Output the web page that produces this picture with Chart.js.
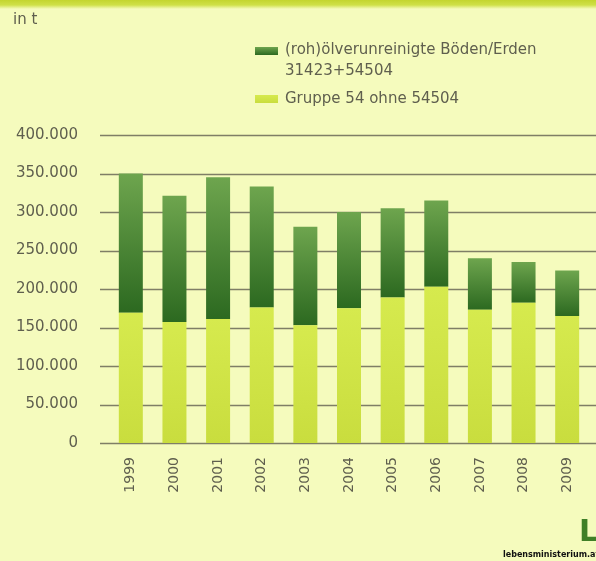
<!DOCTYPE html>
<html>
<head>
<meta charset="utf-8">
<script src="https://cdn.jsdelivr.net/npm/chart.js@4.4.1/dist/chart.umd.min.js"></script>
<style>
  html, body { margin: 0; padding: 0; background: #f5fbbf; }
  #box { width: 596px; height: 561px; }
</style>
</head>
<body>
<div id="box"><canvas id="myChart" width="596" height="561"></canvas></div>
<script>
  // Abfallmengen in Tonnen
  const years = ["1999", "2000", "2001", "2002", "2003", "2004", "2005", "2006", "2007", "2008", "2009"];
  const gruppe54 = [169000, 157000, 161000, 176000, 153000, 175000, 189000, 203000, 173000, 182000, 165000];
  const boeden = [181000, 164000, 184000, 157000, 128000, 125000, 116000, 112000, 67000, 53000, 59000];
  const yTicks = [0, 50000, 100000, 150000, 200000, 250000, 300000, 350000, 400000];

  const labelBoeden = ["(roh)ölverunreinigte Böden/Erden", "31423+54504"];
  const labelGruppe = ["Gruppe 54 ohne 54504"];

  const FONT = "'DejaVu Sans', sans-serif";
  const TEXT = "#5f5f4e";

  function fmt(v) {
    return String(v).replace(/\B(?=(\d{3})+(?!\d))/g, ".");
  }

  function darkFill(c, top, bottom) {
    const g = c.createLinearGradient(0, top, 0, bottom);
    g.addColorStop(0, "#6ea54e");
    g.addColorStop(1, "#2c6920");
    return g;
  }
  function lightFill(c, top, bottom) {
    const g = c.createLinearGradient(0, top, 0, bottom);
    g.addColorStop(0, "#d6ea4e");
    g.addColorStop(1, "#c9dd3e");
    return g;
  }

  // Hintergrund, Rasterlinien, Legende, Beschriftung
  const deko = {
    id: "deko",
    beforeDraw(chart) {
      const c = chart.ctx;
      c.save();
      c.fillStyle = "#f5fbbd";
      c.fillRect(0, 0, chart.width, chart.height);
      const band = c.createLinearGradient(0, 0, 0, 9);
      band.addColorStop(0, "#c3d52e");
      band.addColorStop(0.55, "#cfe047");
      band.addColorStop(1, "#f5fbbd");
      c.fillStyle = band;
      c.fillRect(0, 0, chart.width, 9);
      c.restore();
    },
    beforeDatasetsDraw(chart) {
      const c = chart.ctx;
      const y = chart.scales.y;
      c.save();
      c.strokeStyle = "#7f7e66";
      c.lineWidth = 1.3;
      yTicks.forEach(v => {
        const py = Math.round(y.getPixelForValue(v)) + 0.5;
        c.beginPath();
        c.moveTo(100, py);
        c.lineTo(chart.width, py);
        c.stroke();
      });
      c.restore();
    },
    afterDraw(chart) {
      const c = chart.ctx;
      c.save();
      c.fillStyle = TEXT;
      c.textBaseline = "middle";
      c.font = "15px " + FONT;
      c.fillText("in t", 13, 20);

      // Legende
      c.fillStyle = darkFill(c, 47, 55);
      c.fillRect(255, 47, 23, 8);
      c.fillStyle = lightFill(c, 95, 103);
      c.fillRect(255, 95, 23, 8);
      c.fillStyle = TEXT;
      c.fillText(labelBoeden[0], 285, 50);
      c.fillText(labelBoeden[1], 285, 71);
      c.fillText(labelGruppe[0], 285, 99);

      // Logo
      c.fillStyle = "#3f7f27";
      c.font = "bold 30px " + FONT;
      c.fillText("L", 579, 533);
      c.fillStyle = "#111";
      c.font = "bold 8px " + FONT;
      c.fillText("lebensministerium.at", 503, 555);
      c.restore();
    }
  };

  new Chart("myChart", {
    type: "bar",
    data: {
      labels: years,
      datasets: [
        {
          label: labelGruppe.join(" "),
          data: gruppe54,
          backgroundColor: (ctx) => {
            const ch = ctx.chart;
            if (!ch.chartArea) return "#d0e448";
            const y = ch.scales.y;
            return lightFill(ch.ctx, y.getPixelForValue(gruppe54[ctx.dataIndex]), y.getPixelForValue(0));
          },
          barPercentage: 0.55,
          categoryPercentage: 1
        },
        {
          label: labelBoeden.join(" "),
          data: boeden,
          backgroundColor: (ctx) => {
            const ch = ctx.chart;
            if (!ch.chartArea) return "#4b8a36";
            const y = ch.scales.y;
            const i = ctx.dataIndex;
            return darkFill(ch.ctx, y.getPixelForValue(gruppe54[i] + boeden[i]), y.getPixelForValue(gruppe54[i]));
          },
          barPercentage: 0.55,
          categoryPercentage: 1
        }
      ]
    },
    options: {
      responsive: false,
      animation: false,
      devicePixelRatio: 1,
      layout: { padding: { top: 135, right: 7, left: 0, bottom: 0 } },
      plugins: {
        legend: { display: false },
        title: { display: false },
        tooltip: { enabled: false }
      },
      scales: {
        x: {
          stacked: true,
          grid: { display: false },
          border: { display: false },
          afterFit: (s) => { s.height = 118; },
          ticks: {
            color: TEXT,
            font: { family: FONT, size: 14 },
            minRotation: 90,
            maxRotation: 90,
            padding: 6
          }
        },
        y: {
          stacked: true,
          min: 0,
          max: 400000,
          grid: { display: false },
          border: { display: false },
          afterFit: (s) => { s.width = 109; },
          afterBuildTicks: (s) => { s.ticks = yTicks.map(v => ({ value: v })); },
          ticks: {
            color: TEXT,
            font: { family: FONT, size: 15 },
            padding: 23,
            callback: (v) => fmt(v)
          }
        }
      }
    },
    plugins: [deko]
  });
</script>
</body>
</html>
